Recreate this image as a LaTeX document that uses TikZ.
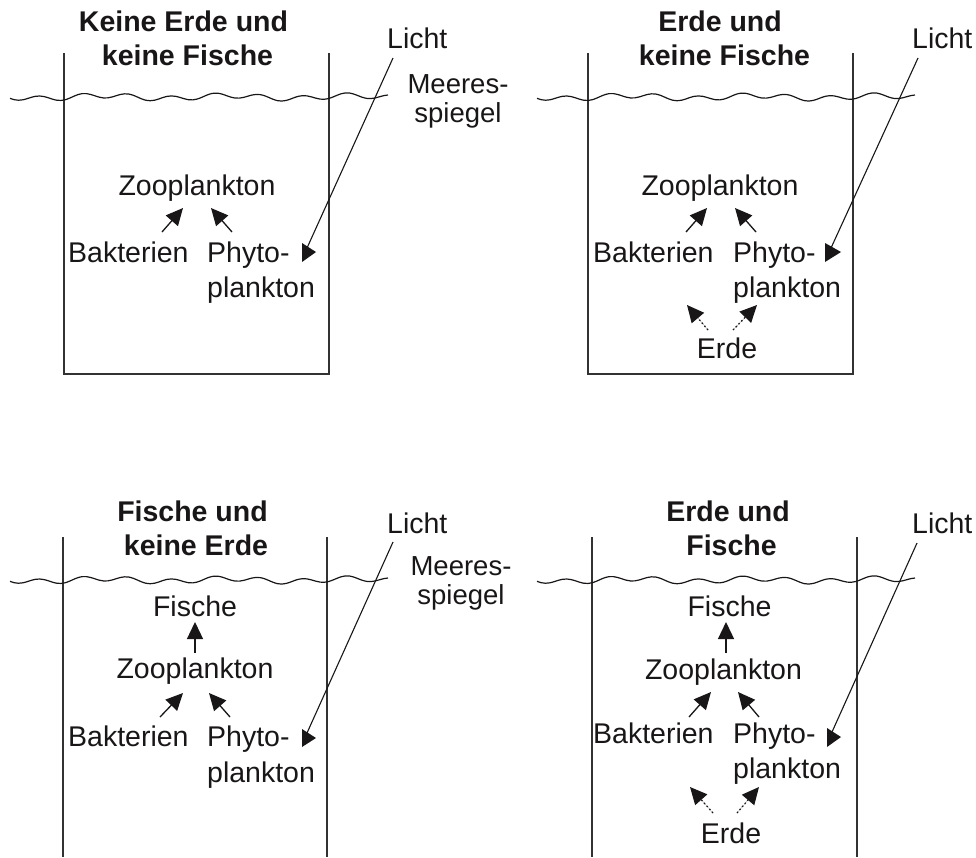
\documentclass[tikz,border=0pt]{standalone}
\usepackage{fontspec}
\setmainfont{Liberation Sans}
\usetikzlibrary{arrows.meta}
\definecolor{ink}{RGB}{25,22,23}
\definecolor{wallc}{RGB}{50,50,50}
\begin{document}
\begin{tikzpicture}[x=1pt,y=-1pt,
  lbl/.style={inner sep=0pt, anchor=base, font=\fontsize{28.5}{34}\selectfont, text=ink},
  lblw/.style={lbl, anchor=base west},
  ttl/.style={lbl, font=\fontsize{28.5}{34}\selectfont\bfseries},
  sea/.style={lbl, font=\fontsize{27.5}{30}\selectfont},
  wall/.style={line width=1.5pt, draw=wallc},
  wave/.style={line width=1.2pt, draw=ink},
  feed/.style={line width=1.3pt, draw=ink, -{Triangle[length=17pt,width=16pt]}, fill=ink},
  soil/.style={feed, dash pattern=on 1.5pt off 2.5pt},
  ray/.style={line width=1.1pt, draw=ink},
  rayhead/.style={fill=ink}
]
\useasboundingbox (0,0) rectangle (976,857);

% ---------------- Panel 1 (top left) ----------------
\node[ttl] (t1a) at (183.5,31) {Keine Erde und};
\node[ttl] (t1b) at (187.5,65) {keine Fische};
\draw[wall] (64,53) -- (64,374) -- (329,374) -- (329,53);
\draw[wave] plot[smooth,domain=0:378,samples=90] ({10+\x},{97+2.6*sin(\x*8.2+30)+1.6*sin(\x*2.9)});
\node[lbl] (z1) at (197,195) {Zooplankton};
\node[lblw] (b1) at (68,262) {Bakterien};
\node[lblw] (p1) at (207,262) {Phyto-};
\node[lblw] (p1b) at (207,297) {plankton};
\node[lblw] (l1) at (387,48) {Licht};
\node[sea] (m1) at (458,93) {Meeres-};
\node[sea] (s1) at (458,122) {spiegel};
\coordinate (b1s) at (162,232); \coordinate (z1l) at (183,208);
\coordinate (p1s) at (232,232); \coordinate (z1r) at (211,208);
\draw[feed] (b1s) -- (z1l);
\draw[feed] (p1s) -- (z1r);
\coordinate (l1s) at (393,58); \coordinate (l1e) at (307,248);
\draw[ray] (l1s) -- (l1e);
\fill[rayhead] (302,243) -- (302,262) -- (316,252) -- cycle;

% ---------------- Panel 2 (top right) ----------------
\node[ttl] (t2a) at (720,31) {Erde und};
\node[ttl] (t2b) at (724.5,65) {keine Fische};
\draw[wall] (588,53) -- (588,374) -- (853,374) -- (853,53);
\draw[wave] plot[smooth,domain=0:378,samples=90] ({537+\x},{97+2.6*sin(\x*8.2+30)+1.6*sin(\x*2.9)});
\node[lbl] (z2) at (720,195) {Zooplankton};
\node[lblw] (b2) at (593,262) {Bakterien};
\node[lblw] (p2) at (733,262) {Phyto-};
\node[lblw] (p2b) at (733,297) {plankton};
\node[lbl] (e2) at (727,358) {Erde};
\node[lblw] (l2) at (912,48) {Licht};
\coordinate (b2s) at (686,232); \coordinate (z2l) at (707,208);
\coordinate (p2s) at (756,232); \coordinate (z2r) at (735,208);
\draw[feed] (b2s) -- (z2l);
\draw[feed] (p2s) -- (z2r);
\coordinate (e2l) at (708,330); \coordinate (b2e) at (687,305);
\coordinate (e2r) at (733,330); \coordinate (p2e) at (757,305);
\draw[soil] (e2l) -- (b2e);
\draw[soil] (e2r) -- (p2e);
\coordinate (l2s) at (918,58); \coordinate (l2e) at (831,248);
\draw[ray] (l2s) -- (l2e);
\fill[rayhead] (825,243) -- (825,262) -- (841,252) -- cycle;

% ---------------- Panel 3 (bottom left) ----------------
\node[ttl] (t3a) at (192.5,521) {Fische und};
\node[ttl] (t3b) at (196,555) {keine Erde};
\draw[wall] (63,537) -- (63,857);
\draw[wall] (327,537) -- (327,857);
\draw[wave] plot[smooth,domain=0:378,samples=90] ({10+\x},{580+2.6*sin(\x*8.2+30)+1.6*sin(\x*2.9)});
\node[lbl] (f3) at (195,616) {Fische};
\node[lbl] (z3) at (195,678) {Zooplankton};
\node[lblw] (b3) at (68,746) {Bakterien};
\node[lblw] (p3) at (207,746) {Phyto-};
\node[lblw] (p3b) at (207,782) {plankton};
\node[lblw] (l3) at (387,533) {Licht};
\node[sea] (m3) at (461,575) {Meeres-};
\node[sea] (s3) at (461,604) {spiegel};
\coordinate (z3t) at (195,653); \coordinate (f3b) at (195,622);
\draw[feed] (z3t) -- (f3b);
\coordinate (b3s) at (160,717); \coordinate (z3l) at (183,693);
\coordinate (p3s) at (230,717); \coordinate (z3r) at (209,693);
\draw[feed] (b3s) -- (z3l);
\draw[feed] (p3s) -- (z3r);
\coordinate (l3s) at (393,542); \coordinate (l3e) at (307,733);
\draw[ray] (l3s) -- (l3e);
\fill[rayhead] (302,729) -- (302,747) -- (316,738) -- cycle;

% ---------------- Panel 4 (bottom right) ----------------
\node[ttl] (t4a) at (728,521) {Erde und};
\node[ttl] (t4b) at (731.5,555) {Fische};
\draw[wall] (592,537) -- (592,857);
\draw[wall] (857,537) -- (857,857);
\draw[wave] plot[smooth,domain=0:378,samples=90] ({537+\x},{580+2.6*sin(\x*8.2+30)+1.6*sin(\x*2.9)});
\node[lbl] (f4) at (729.5,616) {Fische};
\node[lbl] (z4) at (723.5,679) {Zooplankton};
\node[lblw] (b4) at (593,743) {Bakterien};
\node[lblw] (p4) at (733,743) {Phyto-};
\node[lblw] (p4b) at (733,778) {plankton};
\node[lbl] (e4) at (731,843) {Erde};
\node[lblw] (l4) at (912,533) {Licht};
\coordinate (z4t) at (726,653); \coordinate (f4b) at (726,622);
\draw[feed] (z4t) -- (f4b);
\coordinate (b4s) at (689,717); \coordinate (z4l) at (711,692);
\coordinate (p4s) at (759,717); \coordinate (z4r) at (738,692);
\draw[feed] (b4s) -- (z4l);
\draw[feed] (p4s) -- (z4r);
\coordinate (e4l) at (713,813); \coordinate (b4e) at (690,787);
\coordinate (e4r) at (737,813); \coordinate (p4e) at (759,787);
\draw[soil] (e4l) -- (b4e);
\draw[soil] (e4r) -- (p4e);
\coordinate (l4s) at (917,543); \coordinate (l4e) at (832,732);
\draw[ray] (l4s) -- (l4e);
\fill[rayhead] (827,728) -- (827,747) -- (841,737) -- cycle;
\end{tikzpicture}
\end{document}
